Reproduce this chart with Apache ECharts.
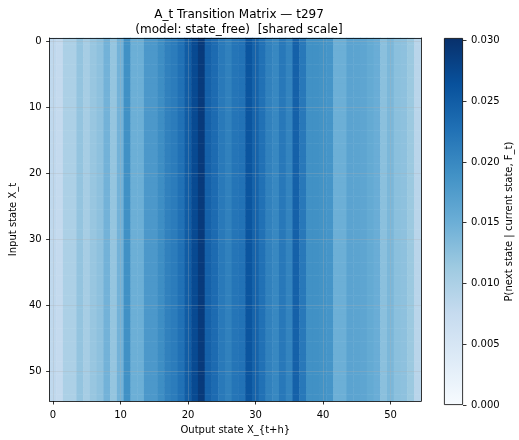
<!DOCTYPE html>
<html>
<head>
<meta charset="utf-8">
<script src="https://cdn.jsdelivr.net/npm/echarts@6/dist/echarts.min.js"></script>
<style>html,body{margin:0;padding:0;background:#fff}#c{width:519px;height:440px}</style>
</head>
<body>
<div id="c"></div>
<script>
// Column values (each row of the matrix is identical: state-free model)
var colValues = [
  0.0082, 0.0077, 0.0100, 0.0100, 0.0121, 0.0106, 0.0118, 0.0125, 0.0145, 0.0120,
  0.0145, 0.0190, 0.0150, 0.0150, 0.0180, 0.0180, 0.0193, 0.0208, 0.0214, 0.0227,
  0.0250, 0.0272, 0.0290, 0.0245, 0.0233, 0.0217, 0.0208, 0.0222, 0.0225, 0.0260,
  0.0243, 0.0227, 0.0208, 0.0200, 0.0218, 0.0205, 0.0245, 0.0218, 0.0190, 0.0190,
  0.0188, 0.0185, 0.0150, 0.0150, 0.0166, 0.0165, 0.0163, 0.0157, 0.0152, 0.0127,
  0.0139, 0.0127, 0.0125, 0.0115, 0.0088
];
var nStates = 55;
var xCats = Array.from({length: nStates}, function(_, i){ return String(i); });
var yCats = xCats.slice();
var axisTicks = [0, 10, 20, 30, 40, 50];
var cbarTicks = [0, 0.005, 0.010, 0.015, 0.020, 0.025, 0.030];
var vmax = 0.0302;
var blues = ['#f7fbff','#deebf7','#c6dbef','#9ecae1','#6baed6','#4292c6','#2171b5','#08519c','#08306b'];

var heatData = [];
for (var r = 0; r < yCats.length; r++) {
  for (var c = 0; c < xCats.length; c++) {
    heatData.push([c, r, colValues[c]]);
  }
}

var FONT = 'DejaVu Sans';
var tickInt = function(idx){ return axisTicks.indexOf(idx) >= 0; };
var lineBlack = {color: '#000', width: 0.8};

var chart = echarts.init(document.getElementById('c'), null, {renderer: 'canvas'});
chart.setOption({
  animation: false,
  backgroundColor: '#fff',
  textStyle: {fontFamily: FONT},
  title: {
    text: 'A_t Transition Matrix \u2014 t297\n(model: state_free)  [shared scale]',
    left: 234, top: 3, textAlign: 'center',
    textStyle: {fontFamily: FONT, fontSize: 12, fontWeight: 'normal', color: '#000', lineHeight: 14.5}
  },
  grid: [
    {left: 47, top: 38, width: 374, height: 367},
    {left: 444, top: 38, width: 19, height: 367}
  ],
  xAxis: [
    {gridIndex: 0, type: 'category', data: xCats, position: 'bottom', z: 10,
     axisLine: {show: true, lineStyle: lineBlack},
     axisTick: {show: true, alignWithLabel: true, interval: function(i){return tickInt(i);}, length: 3.5, lineStyle: lineBlack},
     axisLabel: {interval: function(i){return tickInt(i);}, margin: 9, fontSize: 10, color: '#000', fontFamily: FONT},
     splitLine: {show: false},
     name: 'Output state X_{t+h}', nameLocation: 'middle', nameGap: 24,
     nameTextStyle: {fontSize: 10, color: '#000', fontFamily: FONT}},
    {gridIndex: 0, type: 'category', data: xCats, position: 'top', z: 10,
     axisLine: {show: true, lineStyle: lineBlack}, axisTick: {show: false}, axisLabel: {show: false}},
    {gridIndex: 1, type: 'category', data: [''], position: 'bottom',
     axisLine: {show: false}, axisTick: {show: false}, axisLabel: {show: false}}
  ],
  yAxis: [
    {gridIndex: 0, type: 'category', data: yCats, inverse: true, position: 'left', z: 10,
     axisLine: {show: true, lineStyle: lineBlack},
     axisTick: {show: true, alignWithLabel: true, interval: function(i){return tickInt(i);}, length: 3.5, lineStyle: lineBlack},
     axisLabel: {interval: function(i){return tickInt(i);}, margin: 8, fontSize: 10, color: '#000', fontFamily: FONT},
     splitLine: {show: false},
     name: 'Input state X_t', nameLocation: 'middle', nameGap: 28, nameRotate: 90,
     nameTextStyle: {fontSize: 10, color: '#000', fontFamily: FONT}},
    {gridIndex: 0, type: 'category', data: yCats, inverse: true, position: 'right', z: 10,
     axisLine: {show: true, lineStyle: lineBlack}, axisTick: {show: false}, axisLabel: {show: false}},
    {gridIndex: 1, type: 'value', min: 0, max: vmax, position: 'right', z: 10,
     axisLine: {show: false},
     axisTick: {show: true, customValues: cbarTicks, length: 3.5, lineStyle: lineBlack},
     axisLabel: {customValues: cbarTicks, margin: 8, fontSize: 10, color: '#000', fontFamily: FONT,
                 formatter: function(v){ return v.toFixed(3); }},
     splitLine: {show: false},
     name: 'P(next state | current state, F_t)', nameLocation: 'middle', nameGap: 41, nameRotate: 90,
     nameTextStyle: {fontSize: 10, color: '#000', fontFamily: FONT}}
  ],
  visualMap: {
    type: 'continuous', show: false, min: 0, max: vmax, seriesIndex: 0, dimension: 2,
    inRange: {color: blues}
  },
  series: [
    {type: 'heatmap', xAxisIndex: 0, yAxisIndex: 0, data: heatData, silent: true,
     markLine: {
       silent: true, symbol: 'none', animation: false,
       label: {show: false},
       lineStyle: {color: '#b0b0b0', opacity: 0.35, width: 0.8, type: 'solid'},
       data: axisTicks.map(function(v){ return {xAxis: v}; }).concat(axisTicks.map(function(v){ return {yAxis: v}; }))
     }},
    {type: 'bar', xAxisIndex: 2, yAxisIndex: 2, data: [vmax], barWidth: '100%', silent: true,
     itemStyle: {
       borderColor: '#000', borderWidth: 0.8,
       color: new echarts.graphic.LinearGradient(0, 1, 0, 0, blues.map(function(col, i){
         return {offset: i / (blues.length - 1), color: col};
       }))
     }}
  ]
});
</script>
</body>
</html>
